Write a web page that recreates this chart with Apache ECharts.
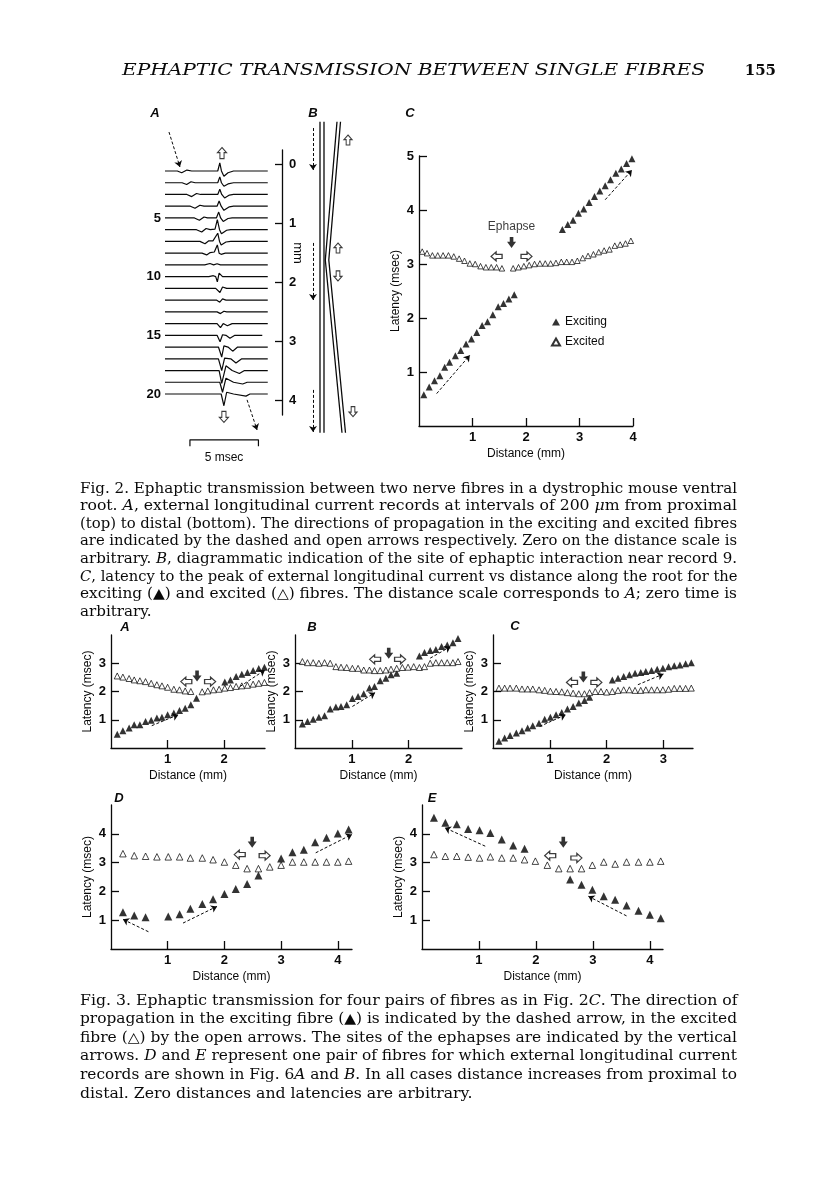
<!DOCTYPE html>
<html><head><meta charset="utf-8">
<script src="https://cdn.jsdelivr.net/npm/echarts@6/dist/echarts.min.js"></script>
<style>html,body{margin:0;padding:0;background:#fff}#c{width:816px;height:1184px}</style>
</head><body><div id="c"></div>
<script>
// ---------------- DATA ----------------
// Fig 2A: 20 traces, vertices [time (msec), deflection (trace-spacing units, + = up)]
const TRACES = [
 [[0,0],[0.9,0],[1.22,-0.15],[1.6,0.08],[1.95,0],[3.85,0],[4.0,0.7],[4.12,0],[4.3,-0.45],[4.6,-0.15],[5.0,0],[7.5,0]],
 [[0,0],[1.25,0],[1.58,-0.15],[1.9,0.08],[2.2,0],[3.85,0],[4.0,0.5],[4.12,0],[4.3,-0.3],[4.6,-0.1],[5.0,0],[7.5,0]],
 [[0,0],[1.6,0],[1.95,-0.18],[2.3,0.08],[2.6,0],[3.85,0],[4.0,0.45],[4.14,0],[4.35,-0.3],[4.7,-0.05],[5.0,0],[7.5,0]],
 [[0,0],[1.85,0],[2.19,-0.18],[2.55,0.08],[2.85,0],[3.8,0],[3.95,0.45],[4.1,0],[4.3,-0.35],[4.7,-0.05],[5.0,0],[7.5,0]],
 [[0,0],[2.15,0],[2.51,-0.2],[2.85,0.08],[3.1,0],[3.75,0],[3.92,0.5],[4.06,0],[4.25,-0.3],[4.6,-0.05],[4.9,0],[7.5,0]],
 [[0,0],[2.3,0],[2.68,-0.2],[3.0,0.1],[3.3,0],[3.65,0.05],[3.82,0.85],[3.98,0],[4.12,-0.35],[4.5,-0.05],[4.8,0],[7.5,0]],
 [[0,0],[2.55,0],[2.92,-0.2],[3.2,0.05],[3.5,0.05],[3.85,0.7],[3.98,0],[4.1,-0.3],[4.45,-0.05],[4.8,0],[7.5,0]],
 [[0,0],[2.7,0],[3.04,-0.15],[3.3,0.05],[3.6,0.1],[3.82,0.7],[3.95,0],[4.1,-0.1],[4.4,0],[7.5,0]],
 [[0,0],[2.9,0],[3.28,0.12],[3.55,0],[3.8,0.1],[4.05,0],[7.5,0]],
 [[0,0],[3.2,0],[3.53,0.08],[3.7,0],[3.82,-0.45],[3.95,0.3],[4.2,0],[7.5,0]],
 [[0,0],[3.7,0],[4.01,-0.35],[4.2,0.12],[4.5,0],[7.5,0]],
 [[0,0],[3.75,0],[4.0,-0.18],[4.2,0.1],[4.45,0],[7.5,0]],
 [[0,0],[3.8,0],[4.05,-0.15],[4.3,0.05],[4.5,0],[7.5,0]],
 [[0,0],[3.8,0],[4.05,-0.35],[4.25,0],[4.55,-0.18],[4.9,0],[7.5,0]],
 [[0,0],[3.8,0],[4.02,-0.55],[4.2,0.05],[4.45,0],[4.74,-0.25],[5.1,0],[7.1,0]],
 [[0,0],[3.9,0],[4.14,-0.85],[4.3,0.1],[4.6,0],[4.94,-0.35],[5.3,0],[7.5,0]],
 [[0,0],[3.9,0],[4.14,-1.0],[4.35,0.05],[4.8,0],[5.18,-0.35],[5.6,0],[7.5,0]],
 [[0,0],[3.95,0],[4.14,-1.1],[4.45,0.4],[4.9,0],[5.43,-0.25],[5.8,0],[7.5,0]],
 [[0,0],[4.0,0],[4.2,-0.85],[4.45,0.35],[5.0,0],[5.67,-0.15],[6.0,0],[7.5,0]],
 [[0,0],[4.1,0],[4.3,-1.0],[4.5,0.15],[5.0,0],[5.91,-0.18],[6.2,0],[7.5,0]]
];
const TRACE_LABELS = [5, 10, 15, 20];
const MM_TICKS = [0, 1, 2, 3, 4];
const SCALE_BAR_MS = [1.82, 6.82];
const A2_OPEN_ARROWS = [[4.16, -0.53, 'up'], [4.3, 21.95, 'down']];
const A2_DASHED = [[0.29, -2.32, 1.09, 0.66], [5.99, 20.5, 6.72, 23.06]];

// Fig 2B diagram (x: arbitrary units, y: record index units)
const FIBRE_EXCITING = [[[15, -3.2], [15, 23.3]], [[19, -3.2], [19, 23.3]]];
const FIBRE_EXCITED = [[[32, -3.2], [20.3, 8.58], [37, 23.3]], [[35.5, -3.2], [23.8, 8.58], [40.5, 23.3]]];
const B2_DASHED = [[8, -2.66, 8, 0.91], [8, 7.13, 8, 11.99], [8, 19.65, 8, 23.23]];
const B2_OPEN_ARROWS = [[43, -1.64, 'up'], [33, 7.56, 'up'], [33, 9.94, 'down'], [48, 21.5, 'down']];

// Fig 2C
const F2C_EXCITING = [[0.09,0.58],[0.19,0.72],[0.29,0.84],[0.39,0.93],[0.48,1.09],[0.57,1.18],[0.68,1.30],[0.78,1.40],[0.88,1.52],[0.98,1.61],[1.08,1.73],[1.18,1.86],[1.28,1.93],[1.38,2.06],[1.48,2.21],[1.58,2.27],[1.68,2.35],[1.78,2.43],[2.68,3.64],[2.78,3.73],[2.88,3.81],[2.98,3.94],[3.08,4.02],[3.18,4.14],[3.28,4.25],[3.38,4.35],[3.48,4.45],[3.58,4.56],[3.68,4.68],[3.78,4.76],[3.88,4.86],[3.98,4.95]];
const F2C_EXCITED = [[0.06,3.23],[0.15,3.20],[0.25,3.16],[0.35,3.16],[0.45,3.16],[0.55,3.16],[0.65,3.14],[0.75,3.10],[0.85,3.06],[0.95,3.01],[1.05,3.00],[1.15,2.96],[1.25,2.94],[1.35,2.94],[1.45,2.94],[1.55,2.92],[1.76,2.92],[1.86,2.94],[1.96,2.96],[2.06,2.98],[2.16,3.00],[2.26,3.01],[2.36,3.01],[2.46,3.01],[2.56,3.02],[2.66,3.04],[2.76,3.04],[2.86,3.04],[2.96,3.06],[3.06,3.11],[3.16,3.15],[3.26,3.18],[3.36,3.22],[3.46,3.25],[3.56,3.27],[3.66,3.34],[3.76,3.36],[3.86,3.38],[3.96,3.43]];
const F2C_ANN = {eph: [1.73, 3.40], left: [1.45, 3.14], right: [2.01, 3.14], dashed: [[0.33, 0.6, 0.95, 1.31], [3.48, 4.19, 3.98, 4.74]]};

// Fig 3
const F3A_EXCITING = [[0.11,0.49],[0.21,0.61],[0.32,0.71],[0.41,0.82],[0.51,0.82],[0.61,0.94],[0.71,0.98],[0.81,1.06],[0.90,1.09],[1.0,1.18],[1.11,1.24],[1.21,1.33],[1.31,1.41],[1.41,1.53],[1.51,1.76],[2.01,2.34],[2.11,2.41],[2.21,2.53],[2.31,2.61],[2.41,2.67],[2.51,2.74],[2.61,2.81],[2.71,2.86]];
const F3A_EXCITED = [[0.11,2.55],[0.21,2.51],[0.32,2.46],[0.41,2.41],[0.51,2.38],[0.61,2.35],[0.71,2.29],[0.81,2.24],[0.90,2.20],[1.0,2.15],[1.11,2.08],[1.21,2.06],[1.31,2.02],[1.41,2.00],[1.61,1.99],[1.71,2.02],[1.81,2.06],[1.91,2.08],[2.01,2.12],[2.11,2.14],[2.21,2.18],[2.31,2.20],[2.41,2.22],[2.51,2.26],[2.61,2.29],[2.71,2.32]];
const F3A_ANN = {eph: [1.52, 2.55], left: [1.33, 2.35], right: [1.75, 2.35], dashed: [[0.72, 0.79, 1.19, 1.18], [2.28, 2.18, 2.72, 2.76]]};

const F3B_EXCITING = [[0.13,0.85],[0.22,0.94],[0.32,1.02],[0.42,1.09],[0.52,1.14],[0.62,1.38],[0.72,1.45],[0.81,1.47],[0.91,1.53],[1.01,1.75],[1.11,1.82],[1.21,1.92],[1.31,2.12],[1.40,2.18],[1.50,2.38],[1.60,2.47],[1.69,2.59],[1.79,2.65],[2.19,3.26],[2.28,3.38],[2.38,3.45],[2.48,3.49],[2.58,3.59],[2.68,3.65],[2.78,3.73],[2.87,3.88]];
const F3B_EXCITED = [[0.13,3.06],[0.22,3.02],[0.32,3.02],[0.42,3.0],[0.52,3.02],[0.62,3.0],[0.72,2.88],[0.81,2.86],[0.91,2.85],[1.01,2.82],[1.11,2.82],[1.21,2.76],[1.31,2.76],[1.40,2.74],[1.50,2.74],[1.60,2.76],[1.69,2.79],[1.79,2.82],[1.89,2.85],[1.99,2.86],[2.09,2.88],[2.19,2.85],[2.28,2.88],[2.38,3.0],[2.48,3.02],[2.58,3.02],[2.68,3.02],[2.78,3.02],[2.87,3.06]];
const F3B_ANN = {eph: [1.65, 3.35], left: [1.41, 3.14], right: [1.85, 3.14], dashed: [[1.01, 1.47, 1.41, 1.96], [2.38, 3.18, 2.74, 3.59]]};

const F3C_EXCITING = [[0.105,0.24],[0.205,0.35],[0.30,0.44],[0.41,0.53],[0.51,0.61],[0.61,0.71],[0.70,0.79],[0.81,0.88],[0.91,1.02],[1.01,1.09],[1.11,1.18],[1.21,1.26],[1.31,1.38],[1.41,1.47],[1.51,1.59],[1.61,1.68],[1.70,1.80],[2.10,2.41],[2.20,2.47],[2.30,2.53],[2.40,2.59],[2.50,2.65],[2.60,2.67],[2.69,2.71],[2.79,2.74],[2.89,2.79],[2.99,2.82],[3.09,2.88],[3.19,2.91],[3.29,2.94],[3.39,2.98],[3.49,3.02]];
const F3C_EXCITED = [[0.105,2.12],[0.205,2.12],[0.30,2.12],[0.41,2.12],[0.51,2.09],[0.61,2.09],[0.70,2.09],[0.81,2.06],[0.91,2.04],[1.01,2.01],[1.11,2.0],[1.21,1.99],[1.31,1.96],[1.41,1.94],[1.51,1.92],[1.61,1.92],[1.70,1.96],[1.80,2.0],[1.90,2.0],[2.0,1.98],[2.10,2.0],[2.20,2.04],[2.30,2.06],[2.40,2.06],[2.50,2.04],[2.60,2.04],[2.69,2.06],[2.79,2.06],[2.89,2.06],[2.99,2.06],[3.09,2.08],[3.19,2.11],[3.29,2.11],[3.39,2.11],[3.49,2.12]];
const F3C_ANN = {eph: [1.59, 2.51], left: [1.39, 2.32], right: [1.82, 2.32], dashed: [[0.82, 0.76, 1.28, 1.18], [2.55, 2.24, 3.0, 2.62]]};

const F3D_EXCITING = [[0.21,1.28],[0.41,1.16],[0.61,1.10],[1.01,1.13],[1.21,1.21],[1.40,1.40],[1.61,1.56],[1.80,1.73],[2.0,1.91],[2.20,2.08],[2.40,2.26],[2.60,2.55],[3.0,3.14],[3.2,3.36],[3.40,3.45],[3.60,3.71],[3.80,3.86],[4.0,4.01],[4.19,4.15]];
const F3D_EXCITED = [[0.21,3.31],[0.41,3.24],[0.61,3.22],[0.81,3.20],[1.01,3.20],[1.21,3.20],[1.40,3.16],[1.61,3.16],[1.80,3.10],[2.0,3.02],[2.20,2.91],[2.40,2.79],[2.60,2.79],[2.80,2.85],[3.0,2.91],[3.2,3.02],[3.40,3.02],[3.60,3.02],[3.80,3.02],[4.0,3.02],[4.19,3.05]];
const F3D_ANN = {eph: [2.49, 3.71], left: [2.27, 3.28], right: [2.71, 3.24], dashed: [[0.66, 0.60, 0.21, 1.03], [1.27, 0.90, 1.87, 1.48], [3.61, 3.34, 4.25, 3.98]]};

const F3E_EXCITING = [[0.21,4.56],[0.41,4.38],[0.61,4.33],[0.81,4.17],[1.01,4.12],[1.20,4.03],[1.40,3.80],[1.60,3.59],[1.80,3.48],[2.60,2.41],[2.80,2.23],[2.99,2.06],[3.19,1.83],[3.39,1.71],[3.59,1.51],[3.80,1.33],[4.0,1.19],[4.19,1.07]];
const F3E_EXCITED = [[0.21,3.28],[0.41,3.22],[0.61,3.22],[0.81,3.19],[1.01,3.16],[1.20,3.20],[1.40,3.16],[1.60,3.16],[1.80,3.10],[1.99,3.05],[2.20,2.91],[2.40,2.79],[2.60,2.79],[2.80,2.79],[2.99,2.91],[3.19,3.02],[3.39,2.95],[3.59,3.02],[3.80,3.02],[4.0,3.02],[4.19,3.05]];
const F3E_ANN = {eph: [2.48, 3.71], left: [2.25, 3.24], right: [2.71, 3.16], dashed: [[1.11, 3.57, 0.40, 4.21], [3.59, 1.15, 2.92, 1.83]]};

const TICKS_X3 = [1, 2], TICKS_X4 = [1, 2, 3], TICKS_X5 = [1, 2, 3, 4];
const TICKS_Y3 = [1, 2, 3], TICKS_Y4 = [1, 2, 3, 4], TICKS_Y5 = [1, 2, 3, 4, 5];

const HEADER = 'EPHAPTIC TRANSMISSION BETWEEN SINGLE FIBRES';
const PAGE_NO = '155';
const CAP2 = [
 'Fig. 2. Ephaptic transmission between two nerve fibres in a dystrophic mouse ventral',
 'root. {i|A}, external longitudinal current records at intervals of 200 {i|\u03bc}m from proximal',
 '(top) to distal (bottom). The directions of propagation in the exciting and excited fibres',
 'are indicated by the dashed and open arrows respectively. Zero on the distance scale is',
 'arbitrary. {i|B}, diagrammatic indication of the site of ephaptic interaction near record 9.',
 '{i|C}, latency to the peak of external longitudinal current vs distance along the root for the',
 'exciting (\u25b2) and excited (\u25b3) fibres. The distance scale corresponds to {i|A}; zero time is',
 'arbitrary.'
];
const CAP3 = [
 'Fig. 3. Ephaptic transmission for four pairs of fibres as in Fig. 2{i|C}. The direction of',
 'propagation in the exciting fibre (\u25b2) is indicated by the dashed arrow, in the excited',
 'fibre (\u25b3) by the open arrows. The sites of the ephapses are indicated by the vertical',
 'arrows. {i|D} and {i|E} represent one pair of fibres for which external longitudinal current',
 'records are shown in Fig. 6{i|A} and {i|B}. In all cases distance increases from proximal to',
 'distal. Zero distances and latencies are arbitrary.'
];

// ---------------- STYLE / LAYOUT ----------------
const SANS = '"Liberation Sans", Arial, sans-serif';
const SERIF = '"DejaVu Serif", serif';
const INK = '#0a0a0a';
const OPEN_ARROW = 'path://M5,0L10,5L7.3,5L7.3,11L2.7,11L2.7,5L0,5Z';
const BLACK_ARROW = 'path://M3,0L7,0L7,4.5L10,4.5L5,10L0,4.5L3,4.5Z';
const ROT = {up: 0, down: 180, left: 90, right: -90};

const chart = echarts.init(document.getElementById('c'), null, {renderer: 'canvas'});

const grids = [
 {left: 165, top: 120, width: 118, height: 330},   // 0 traces
 {left: 282, top: 150, width: 1, height: 265},     // 1 mm scale
 {left: 305, top: 120, width: 55, height: 330},    // 2 diagram B
 {left: 419, top: 156, width: 214, height: 270},   // 3 Fig2C
 {left: 111, top: 635, width: 154, height: 113},   // 4 Fig3A
 {left: 295, top: 635, width: 167, height: 113},   // 5 Fig3B
 {left: 493, top: 635, width: 200, height: 113},   // 6 Fig3C
 {left: 111, top: 805, width: 241, height: 144},   // 7 Fig3D
 {left: 422, top: 805, width: 241, height: 144}    // 8 Fig3E
];

const hiddenAxis = (gi, min, max, extra) => Object.assign({gridIndex: gi, type: 'value', min, max, show: false, splitLine: {show: false}}, extra || {});

function dataXAxis(gi, max, ticks) {
  return {gridIndex: gi, type: 'value', min: 0, max,
    axisLine: {onZero: false, lineStyle: {color: INK, width: 1.3}},
    axisTick: {inside: true, length: 8, customValues: ticks, lineStyle: {color: INK, width: 1.3}},
    axisLabel: {customValues: ticks, margin: 5, fontSize: 13, fontWeight: 'bold', color: INK, fontFamily: SANS},
    splitLine: {show: false},
    name: 'Distance (mm)', nameLocation: 'middle', nameGap: 22,
    nameTextStyle: {fontSize: 12, fontFamily: SANS, color: INK}};
}
function dataYAxis(gi, max, ticks) {
  return {gridIndex: gi, type: 'value', min: 0, max,
    axisLine: {onZero: false, lineStyle: {color: INK, width: 1.3}},
    axisTick: {inside: true, length: 8, customValues: ticks, lineStyle: {color: INK, width: 1.3}},
    axisLabel: {customValues: ticks, margin: 5, fontSize: 13, fontWeight: 'bold', color: INK, fontFamily: SANS},
    splitLine: {show: false},
    name: 'Latency (msec)', nameLocation: 'middle', nameGap: 17, nameRotate: 90,
    nameTextStyle: {fontSize: 12, fontFamily: SANS, color: INK}};
}

const xAxes = [
  hiddenAxis(0, 0, 8.613),
  hiddenAxis(1, 0, 1),
  hiddenAxis(2, 0, 55),
  dataXAxis(3, 4, TICKS_X5),
  dataXAxis(4, 2.72, TICKS_X3),
  dataXAxis(5, 2.94, TICKS_X3),
  dataXAxis(6, 3.52, TICKS_X4),
  dataXAxis(7, 4.25, TICKS_X5),
  dataXAxis(8, 4.23, TICKS_X5)
];
const yAxes = [
  {gridIndex: 0, type: 'value', min: -3.344, max: 24.77, inverse: true,
   axisLine: {show: false}, axisTick: {show: false}, splitLine: {show: false},
   axisLabel: {customValues: TRACE_LABELS, margin: 4, fontSize: 13, fontWeight: 'bold', color: INK, fontFamily: SANS}},
  {gridIndex: 1, type: 'value', min: -0.237, max: 4.254, inverse: true, position: 'right',
   axisLine: {lineStyle: {color: INK, width: 1.3}},
   axisTick: {inside: true, length: 7, customValues: MM_TICKS, lineStyle: {color: INK, width: 1.3}},
   axisLabel: {customValues: MM_TICKS, margin: 6, fontSize: 13, fontWeight: 'bold', color: INK, fontFamily: SANS},
   splitLine: {show: false}},
  hiddenAxis(2, -3.344, 24.77, {inverse: true}),
  dataYAxis(3, 5, TICKS_Y5),
  dataYAxis(4, 4, TICKS_Y3),
  dataYAxis(5, 4, TICKS_Y3),
  dataYAxis(6, 4, TICKS_Y3),
  dataYAxis(7, 5, TICKS_Y4),
  dataYAxis(8, 5, TICKS_Y4)
];

const series = [];
const dashedMarkLine = (list, size) => ({
  silent: true, animation: false, symbol: ['none', 'arrow'], symbolSize: size || 6,
  lineStyle: {type: [3, 2], color: INK, width: 1}, label: {show: false},
  emphasis: {disabled: true},
  data: list.map(d => [{coord: [d[0], d[1]]}, {coord: [d[2], d[3]]}])
});

// Fig 2A traces
TRACES.forEach((tr, k) => {
  series.push({type: 'line', xAxisIndex: 0, yAxisIndex: 0, silent: true, symbol: 'none',
    lineStyle: {color: INK, width: 1.2}, data: tr.map(p => [p[0], (k + 1) - p[1]])});
});
// scale bar
series.push({type: 'line', xAxisIndex: 0, yAxisIndex: 0, silent: true, symbol: 'none',
  lineStyle: {color: INK, width: 1.2},
  data: [[SCALE_BAR_MS[0], 24.45], [SCALE_BAR_MS[0], 23.9], [SCALE_BAR_MS[1], 23.9], [SCALE_BAR_MS[1], 24.45]],
  markLine: dashedMarkLine(A2_DASHED, 6)});
series.push({type: 'scatter', xAxisIndex: 0, yAxisIndex: 0, silent: true, symbol: OPEN_ARROW, symbolSize: [9, 11],
  itemStyle: {color: '#fff', borderColor: INK, borderWidth: 1.1},
  data: A2_OPEN_ARROWS.map(a => ({value: [a[0], a[1]], symbolRotate: ROT[a[2]]}))});

// Fig 2B
FIBRE_EXCITING.concat(FIBRE_EXCITED).forEach(f => {
  series.push({type: 'line', xAxisIndex: 2, yAxisIndex: 2, silent: true, symbol: 'none',
    lineStyle: {color: INK, width: 1.3}, data: f});
});
series.push({type: 'scatter', xAxisIndex: 2, yAxisIndex: 2, silent: true, symbol: OPEN_ARROW, symbolSize: [8, 10],
  itemStyle: {color: '#fff', borderColor: INK, borderWidth: 1.1},
  data: B2_OPEN_ARROWS.map(a => ({value: [a[0], a[1]], symbolRotate: ROT[a[2]]})),
  markLine: dashedMarkLine(B2_DASHED, 6)});

// scatter panels
function panel(gi, exc, exd, ann, fs, os, names) {
  series.push({type: 'scatter', name: names[0], xAxisIndex: gi, yAxisIndex: gi, silent: true,
    symbol: 'triangle', symbolSize: fs, itemStyle: {color: '#000'}, data: exc,
    markLine: dashedMarkLine(ann.dashed, 6)});
  series.push({type: 'scatter', name: names[1], xAxisIndex: gi, yAxisIndex: gi, silent: true,
    symbol: 'triangle', symbolSize: os, itemStyle: {color: '#fff', borderColor: '#000', borderWidth: 0.9}, data: exd});
  series.push({type: 'scatter', xAxisIndex: gi, yAxisIndex: gi, silent: true,
    symbol: BLACK_ARROW, symbolSize: [9, 11], itemStyle: {color: '#000'},
    data: [{value: ann.eph, label: gi === 3 ? {show: true, formatter: 'Ephapse', position: 'top', distance: 4,
      fontSize: 12, fontFamily: SANS, color: INK} : {show: false}}]});
  series.push({type: 'scatter', xAxisIndex: gi, yAxisIndex: gi, silent: true,
    symbol: OPEN_ARROW, symbolSize: [9, 11], itemStyle: {color: '#fff', borderColor: INK, borderWidth: 1.2},
    data: [{value: ann.left, symbolRotate: ROT.left}, {value: ann.right, symbolRotate: ROT.right}]});
}
panel(3, F2C_EXCITING, F2C_EXCITED, F2C_ANN, 7, 5.5, ['Exciting', 'Excited']);
panel(4, F3A_EXCITING, F3A_EXCITED, F3A_ANN, 7, 6, ['A exciting', 'A excited']);
panel(5, F3B_EXCITING, F3B_EXCITED, F3B_ANN, 7, 6, ['B exciting', 'B excited']);
panel(6, F3C_EXCITING, F3C_EXCITED, F3C_ANN, 7, 6, ['C exciting', 'C excited']);
panel(7, F3D_EXCITING, F3D_EXCITED, F3D_ANN, 8, 6.5, ['D exciting', 'D excited']);
panel(8, F3E_EXCITING, F3E_EXCITED, F3E_ANN, 8, 6.5, ['E exciting', 'E excited']);

// ---------------- TEXT ----------------
const mctx = document.createElement('canvas').getContext('2d');
function measure(str, size, style) {
  mctx.font = (style || '') + ' ' + size + 'px "DejaVu Serif"';
  return mctx.measureText(str.replace(/\{i\|([^}]*)\}/g, '$1')).width;
}
function caption(lines, x, y0, dy, width, size) {
  const base = width / measure(lines[0], size);
  return lines.map((s, k) => {
    const sc = k < lines.length - 1 ? width / measure(s, size) : base;
    return {type: 'text', x, y: y0 + k * dy, scaleX: sc,
      style: {text: s, fontFamily: SERIF, fontSize: size, fill: INK, align: 'left', verticalAlign: 'middle',
        rich: {i: {fontFamily: SERIF, fontSize: size, fontStyle: 'italic', fill: INK}}}};
  });
}
function label(text, x, y, opts) {
  return {type: 'text', x, y, rotation: (opts && opts.rot) || 0,
    style: Object.assign({text, fontFamily: SANS, fontSize: 13, fill: INK, align: 'center', verticalAlign: 'middle'}, (opts && opts.style) || {})};
}
const headerW = measure(HEADER, 16, 'italic');
const graphic = [
  {type: 'text', x: 122, y: 71, scaleX: 583 / headerW,
   style: {text: HEADER, fontFamily: SERIF, fontSize: 16, fontStyle: 'italic', fill: INK, align: 'left', verticalAlign: 'middle'}},
  {type: 'text', x: 776, y: 71, style: {text: PAGE_NO, fontFamily: SERIF, fontSize: 15, fontWeight: 'bold', fill: INK, align: 'right', verticalAlign: 'middle'}},
  label('A', 155, 113, {style: {fontStyle: 'italic', fontWeight: 'bold'}}),
  label('B', 313, 113, {style: {fontStyle: 'italic', fontWeight: 'bold'}}),
  label('C', 410, 113, {style: {fontStyle: 'italic', fontWeight: 'bold'}}),
  label('A', 125, 627, {style: {fontStyle: 'italic', fontWeight: 'bold'}}),
  label('B', 312, 627, {style: {fontStyle: 'italic', fontWeight: 'bold'}}),
  label('C', 515, 626, {style: {fontStyle: 'italic', fontWeight: 'bold'}}),
  label('D', 119, 798, {style: {fontStyle: 'italic', fontWeight: 'bold'}}),
  label('E', 432, 798, {style: {fontStyle: 'italic', fontWeight: 'bold'}}),
  label('mm', 298, 253, {rot: -Math.PI / 2, style: {fontSize: 13}}),
  label('5 msec', 224, 458, {style: {fontSize: 12}})
].concat(caption(CAP2, 80, 489, 17.6, 657, 14), caption(CAP3, 80, 1001, 18.6, 657, 14));

chart.setOption({
  animation: false,
  backgroundColor: '#fff',
  grid: grids,
  xAxis: xAxes,
  yAxis: yAxes,
  legend: {data: ['Exciting', 'Excited'], left: 546, top: 311, orient: 'vertical', itemWidth: 8, itemHeight: 7,
    itemGap: 8, selectedMode: false, textStyle: {fontSize: 12, fontFamily: SANS, color: INK}},
  series,
  graphic
});
</script></body></html>
